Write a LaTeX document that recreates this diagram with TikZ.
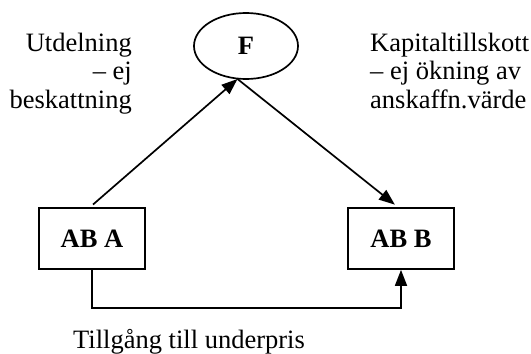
\documentclass[tikz,border=0pt]{standalone}
\usepackage{fontspec}
\setmainfont{Liberation Serif}
\usetikzlibrary{shapes.geometric,arrows.meta}
\begin{document}
\begin{tikzpicture}[x=1pt,y=-1pt,
  every node/.style={font=\fontsize{26.5pt}{28.5pt}\selectfont, inner sep=0pt},
  boxnode/.style={draw, line width=1.7pt, minimum width=106pt, minimum height=61pt, font=\fontsize{26.5pt}{28.5pt}\selectfont\bfseries},
  ellnode/.style={draw, ellipse, line width=1.7pt, minimum width=104pt, minimum height=66pt, font=\fontsize{26.5pt}{28.5pt}\selectfont\bfseries},
  arr/.style={line width=1.7pt, -{Triangle[length=16pt,width=12pt]}}
]
\useasboundingbox (0,0) rectangle (531,354);
\node[ellnode] (F) at (246,46) {F};
\node[boxnode] (A) at (92,238.5) {AB A};
\node[boxnode] (B) at (401,238.5) {AB B};
\coordinate (Fb) at (237.5,79);
\node[align=right, anchor=base east] (lt) at (132,108) {Utdelning\\– ej\\beskattning};
\node[align=left, anchor=base west] (rt) at (370,108) {Kapitaltillskott\\– ej ökning av\\anskaffn.värde};
\node[anchor=base west] (bt) at (73,348) {Tillgång till underpris};
\draw[arr, shorten <=4pt] ([xshift=-2pt]A.north) -- (Fb);
\draw[arr, shorten >=4pt] (Fb) -- ([xshift=-3pt]B.north);
\draw[arr] (A.south) -- ++(0,38) -| (B.south);
\end{tikzpicture}
\end{document}
